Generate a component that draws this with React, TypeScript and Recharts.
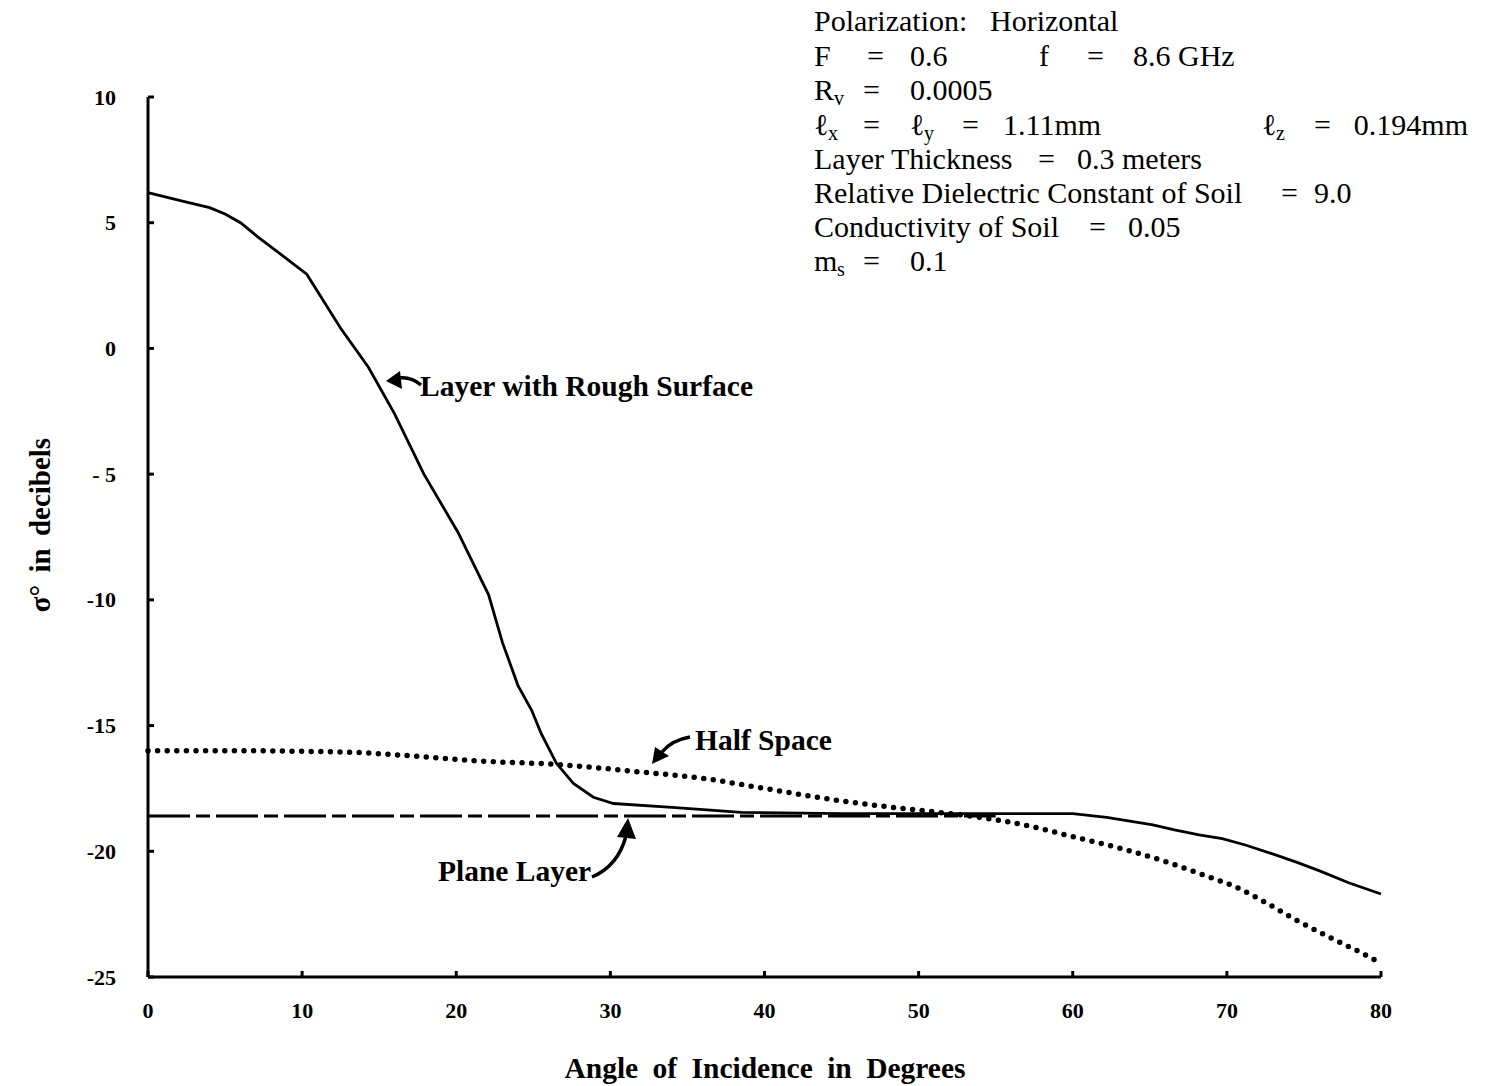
import React from 'react';
import { LineChart, Line, XAxis, YAxis } from 'recharts';

// Layer with rough surface (solid)
const roughAngle = [0, 2.3, 4, 5, 6, 7.1, 8.6, 10.3, 12.5, 14.3, 16, 17.9, 20.1, 22.1, 23, 24, 24.9, 25.5, 26.5, 27.6, 28.9, 30.2, 34, 38.5, 45, 50, 55, 60, 62.2, 65.2, 66.6, 68.2, 69.7, 71.2, 73.2, 74.6, 76.1, 77.9, 80];
const roughDb = [6.2, 5.85, 5.6, 5.35, 5.0, 4.45, 3.75, 2.95, 0.8, -0.75, -2.6, -5.0, -7.3, -9.8, -11.7, -13.4, -14.4, -15.3, -16.5, -17.3, -17.85, -18.1, -18.25, -18.45, -18.5, -18.5, -18.5, -18.5, -18.65, -18.95, -19.15, -19.35, -19.5, -19.75, -20.15, -20.45, -20.8, -21.25, -21.7];

// Half space (dotted)
const halfAngle = [0, 5, 12.5, 17, 21.2, 26.6, 32, 36, 40, 45, 49, 52, 54, 57.2, 60.2, 63.2, 66.2, 68.5, 70.5, 72.4, 74.4, 76.6, 78.6, 80];
const halfDb = [-16.0, -16.0, -16.05, -16.2, -16.4, -16.55, -16.85, -17.1, -17.5, -18.0, -18.3, -18.5, -18.65, -19.0, -19.45, -19.9, -20.45, -20.95, -21.4, -22.0, -22.7, -23.4, -24.0, -24.45];

// Plane layer (dashed)
const planeAngle = [0, 55];
const planeDb = [-18.6, -18.6];

const xTicks = [0, 10, 20, 30, 40, 50, 60, 70, 80];
const yTicks = [10, 5, 0, -5, -10, -15, -20, -25];
const yTickLabels = ['10', '5', '0', '- 5', '-10', '-15', '-20', '-25'];

const toRows = (a: number[], d: number[]) => a.map((angle, i) => ({ angle, db: d[i] }));
const roughData = toRows(roughAngle, roughDb);
const halfData = toRows(halfAngle, halfDb);
const planeData = toRows(planeAngle, planeDb);

const SERIF = '"Liberation Serif", "Times New Roman", serif';
const Y_MARGIN = 32;
const X_MARGIN = 33;

function YTick({ x, y, payload }: any) {
  const i = yTicks.indexOf(payload.value);
  return (
    <g>
      <text x={x} y={y} textAnchor="end" dominantBaseline="central" fontFamily={SERIF} fontWeight="bold" fontSize={22} fill="#000" style={{ whiteSpace: 'pre' }}>
        {yTickLabels[i]}
      </text>
      <line x1={x + Y_MARGIN} y1={y} x2={x + Y_MARGIN + 6} y2={y} stroke="#000" strokeWidth={3} />
    </g>
  );
}

function XTick({ x, y, payload }: any) {
  return (
    <g>
      <text x={x} y={y} textAnchor="middle" dominantBaseline="central" fontFamily={SERIF} fontWeight="bold" fontSize={22} fill="#000">
        {payload.value}
      </text>
      <line x1={x} y1={y - X_MARGIN} x2={x} y2={y - X_MARGIN - 6} stroke="#000" strokeWidth={3} />
    </g>
  );
}

const txt = { fontFamily: SERIF, fontSize: 30, fill: '#000' } as const;
const sub = { fontFamily: SERIF, fontSize: 20, fill: '#000' } as const;
const bold = { fontFamily: SERIF, fontSize: 29.5, fontWeight: 'bold', fill: '#000' } as const;

function Overlay() {
  return (
    <svg width={1488} height={1086} style={{ position: 'absolute', left: 0, top: 0, pointerEvents: 'none' }}>
      {/* parameter block */}
      <g dominantBaseline="central">
        <text x={814} y={20} {...txt}>Polarization:</text>
        <text x={990} y={20} {...txt}>Horizontal</text>

        <text x={814} y={55} {...txt}>F</text>
        <text x={867} y={55} {...txt}>=</text>
        <text x={910} y={55} {...txt}>0.6</text>
        <text x={1039} y={55} {...txt}>f</text>
        <text x={1087} y={55} {...txt}>=</text>
        <text x={1133} y={55} {...txt}>8.6 GHz</text>

        <text x={814} y={89} {...txt}>R</text>
        <text x={834} y={98} {...sub}>v</text>
        <text x={863} y={89} {...txt}>=</text>
        <text x={910} y={89} {...txt}>0.0005</text>

        <text x={814} y={124} {...txt}>ℓ</text>
        <text x={828} y={133} {...sub}>x</text>
        <text x={863} y={124} {...txt}>=</text>
        <text x={910} y={124} {...txt}>ℓ</text>
        <text x={924} y={133} {...sub}>y</text>
        <text x={962} y={124} {...txt}>=</text>
        <text x={1003} y={124} {...txt}>1.11mm</text>
        <text x={1262} y={124} {...txt}>ℓ</text>
        <text x={1276} y={133} {...sub}>z</text>
        <text x={1314} y={124} {...txt}>=</text>
        <text x={1468} y={124} textAnchor="end" {...txt}>0.194mm</text>

        <text x={814} y={158} {...txt}>Layer Thickness</text>
        <text x={1038} y={158} {...txt}>=</text>
        <text x={1077} y={158} {...txt}>0.3 meters</text>

        <text x={814} y={192} {...txt}>Relative Dielectric Constant of Soil</text>
        <text x={1281} y={192} {...txt}>=</text>
        <text x={1314} y={192} {...txt}>9.0</text>

        <text x={814} y={226} {...txt}>Conductivity of Soil</text>
        <text x={1089} y={226} {...txt}>=</text>
        <text x={1128} y={226} {...txt}>0.05</text>

        <text x={814} y={260} {...txt}>m</text>
        <text x={837} y={269} {...sub}>s</text>
        <text x={863} y={260} {...txt}>=</text>
        <text x={910} y={260} {...txt}>0.1</text>
      </g>

      {/* curve labels */}
      <text x={420} y={386} dominantBaseline="central" {...bold}>Layer with Rough Surface</text>
      <path d="M421,385 Q411,376 398,378" fill="none" stroke="#000" strokeWidth={3.5} />
      <path d="M386,381 L400,371 L402,389 Z" fill="#000" />

      <text x={695} y={740} dominantBaseline="central" {...bold}>Half Space</text>
      <path d="M690,737 Q672,740 662,752" fill="none" stroke="#000" strokeWidth={3.5} />
      <path d="M652,764 L655,747 L669,756 Z" fill="#000" />

      <text x={438} y={871} dominantBaseline="central" {...bold}>Plane Layer</text>
      <path d="M592,877 Q618,866 626,836" fill="none" stroke="#000" strokeWidth={3.5} />
      <path d="M628,818 L617,837 L636,839 Z" fill="#000" />

      {/* axis titles */}
      <text x={765} y={1068} textAnchor="middle" dominantBaseline="central" {...bold} fontSize={29.5} wordSpacing={7}>Angle of Incidence in Degrees</text>
      <text x={40} y={525} textAnchor="middle" dominantBaseline="central" {...bold} fontSize={29} wordSpacing={5} transform="rotate(-90 40 525)">σ° in decibels</text>
    </svg>
  );
}

export default function App() {
  return (
    <div style={{ position: 'absolute', left: 0, top: 0, width: 1488, height: 1086, background: '#fff' }}>
      <LineChart width={1488} height={1086} margin={{ top: 97, right: 107, bottom: 69, left: 88 }}>
        <XAxis
          type="number"
          dataKey="angle"
          domain={[0, 80]}
          ticks={xTicks}
          height={40}
          axisLine={{ stroke: '#000', strokeWidth: 3 }}
          tickLine={false}
          tickSize={0}
          tickMargin={X_MARGIN}
          tick={<XTick />}
          interval={0}
        />
        <YAxis
          type="number"
          domain={[-25, 10]}
          ticks={yTicks}
          width={60}
          axisLine={{ stroke: '#000', strokeWidth: 3 }}
          tickLine={false}
          tickSize={0}
          tickMargin={Y_MARGIN}
          tick={<YTick />}
          interval={0}
        />
        <Line data={planeData} dataKey="db" type="linear" stroke="#000" strokeWidth={3} strokeDasharray="42 6 14 6" dot={false} isAnimationActive={false} />
        <Line data={halfData} dataKey="db" type="monotone" stroke="#000" strokeWidth={5.5} strokeLinecap="round" strokeDasharray="0 9.6" dot={false} isAnimationActive={false} />
        <Line data={roughData} dataKey="db" type="linear" stroke="#000" strokeWidth={2.8} dot={false} isAnimationActive={false} />
      </LineChart>
      <Overlay />
    </div>
  );
}
